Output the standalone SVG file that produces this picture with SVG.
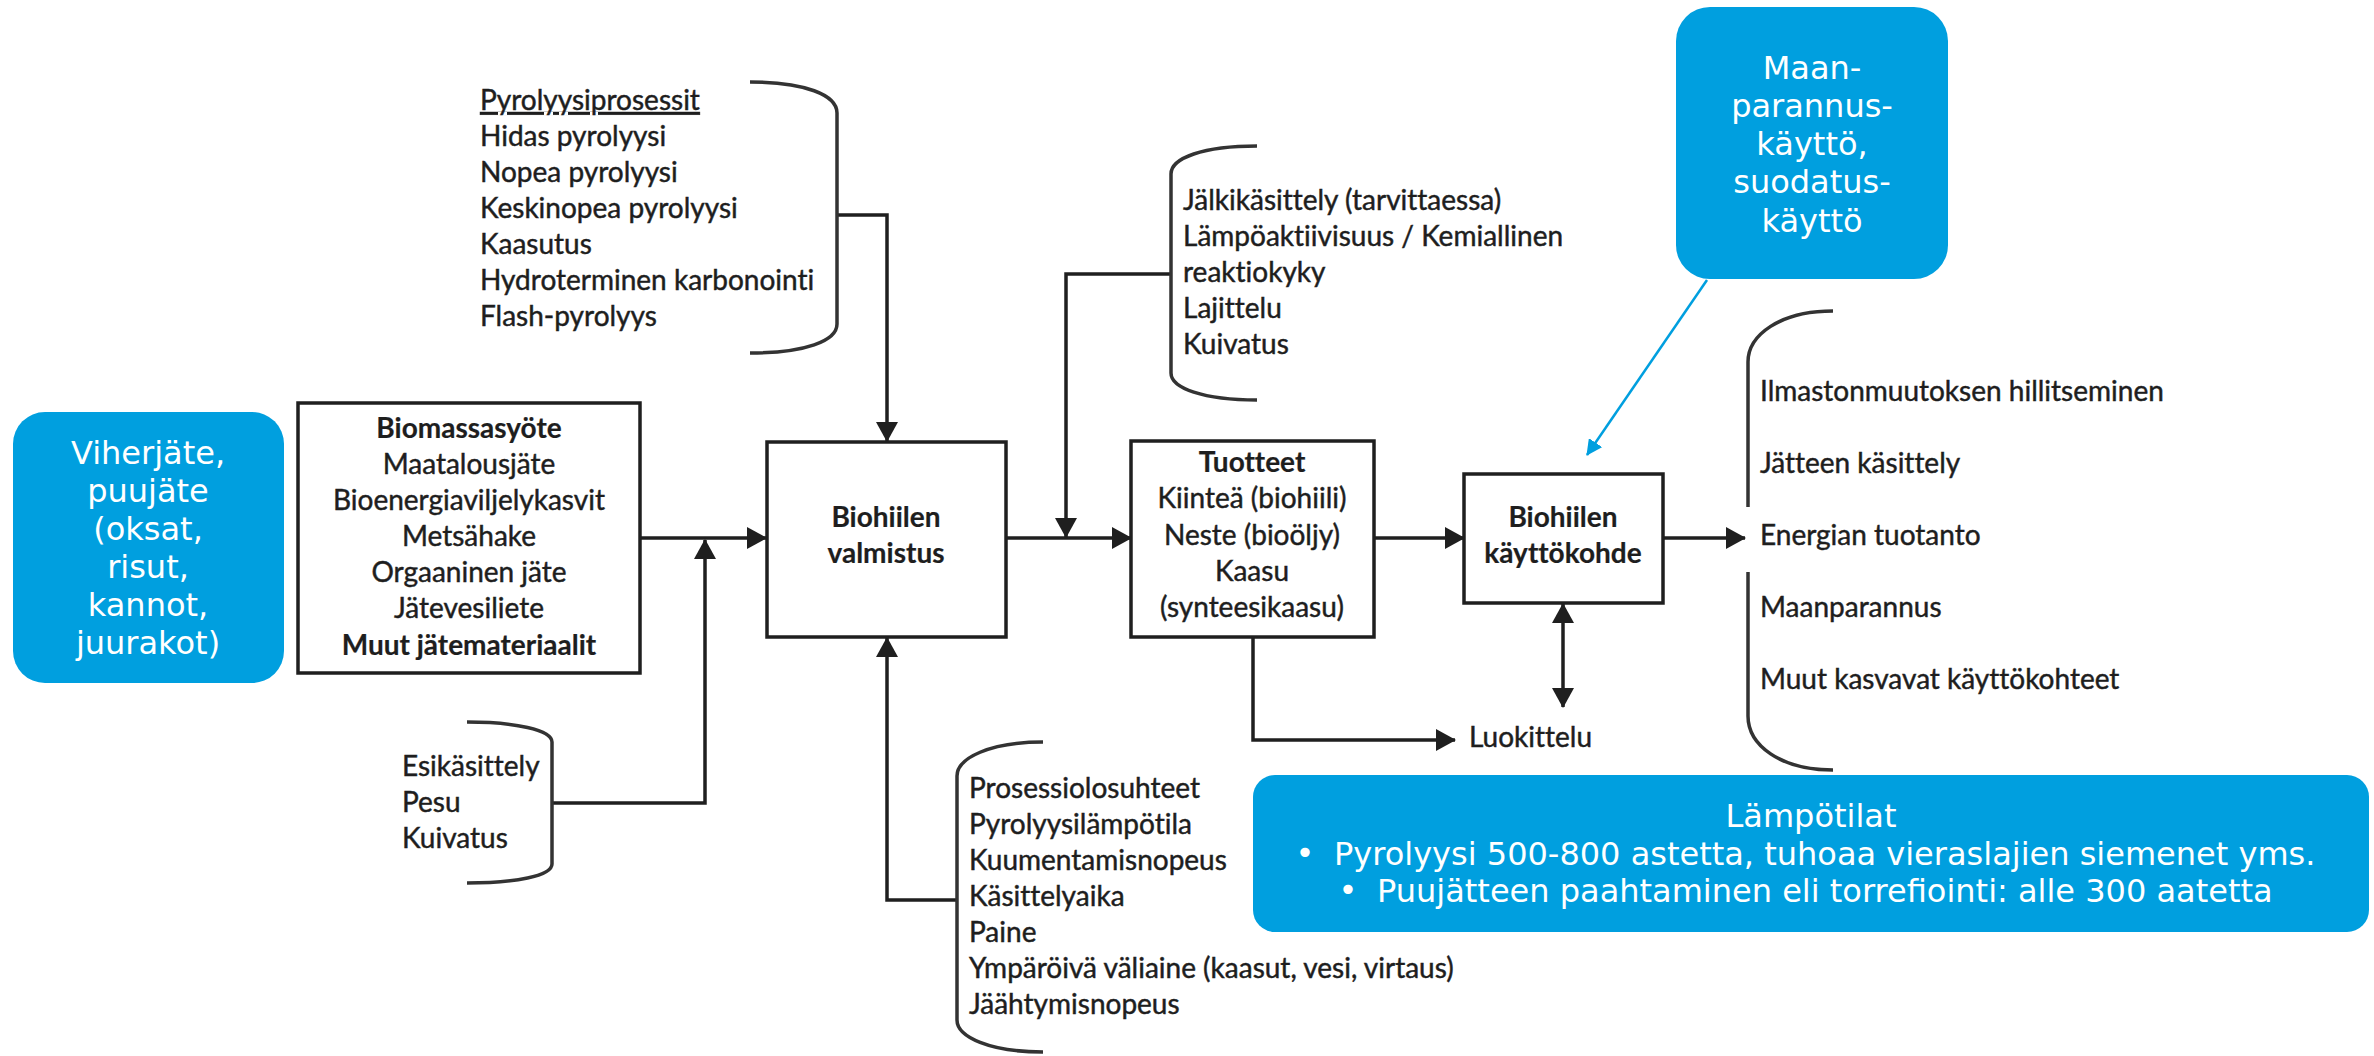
<svg xmlns="http://www.w3.org/2000/svg" width="2374" height="1056" viewBox="0 0 2374 1056">
  <style>
    .box { fill: #ffffff; stroke: #1f1f1f; stroke-width: 3.5; }
    .note { fill: #009fdf; }
    .t { font-family: Lato, "Liberation Sans", sans-serif; font-size: 28px; fill: #1e1e1e; stroke: #1e1e1e; stroke-width: 0.45; font-variant-ligatures: none; font-feature-settings: "liga" 0, "clig" 0; }
    .c { text-anchor: middle; }
    .b { font-weight: bold; stroke-width: 0.2; }
    .w { font-family: "DejaVu Sans", Verdana, sans-serif; font-size: 32px; fill: #ffffff; }
    .wire { fill: none; stroke: #1f1f1f; stroke-width: 3.5; }
    .brace { fill: none; stroke: #333333; stroke-width: 3.5; }
    .callout { fill: none; stroke: #009fdf; stroke-width: 2.5; }
  </style>
  <defs>
    <marker id="arrow" markerUnits="userSpaceOnUse" markerWidth="20" markerHeight="22" refX="19" refY="11" orient="auto">
      <path d="M0,0 L20,11 L0,22 z" fill="#1f1f1f"/>
    </marker>
    <marker id="arrowStart" markerUnits="userSpaceOnUse" markerWidth="20" markerHeight="22" refX="1" refY="11" orient="auto">
      <path d="M20,0 L0,11 L20,22 z" fill="#1f1f1f"/>
    </marker>
    <marker id="arrowBlue" markerUnits="userSpaceOnUse" markerWidth="16" markerHeight="16" refX="15" refY="8" orient="auto">
      <path d="M0,0 L16,8 L0,16 z" fill="#009fdf"/>
    </marker>
  </defs>

  <rect width="2374" height="1056" fill="#ffffff"/>

  <!-- connectors -->
  <g id="connectors">
    <path class="wire" d="M640,538 L766,538" marker-end="url(#arrow)"/>
    <path class="wire" d="M552,803 L705,803 L705,540" marker-end="url(#arrow)"/>
    <path class="wire" d="M837,215 L887,215 L887,441" marker-end="url(#arrow)"/>
    <path class="wire" d="M957,900 L887,900 L887,638" marker-end="url(#arrow)"/>
    <path class="wire" d="M1006,538 L1131,538" marker-end="url(#arrow)"/>
    <path class="wire" d="M1171,274 L1066,274 L1066,537" marker-end="url(#arrow)"/>
    <path class="wire" d="M1374,538 L1464,538" marker-end="url(#arrow)"/>
    <path class="wire" d="M1253,637 L1253,740 L1455,740" marker-end="url(#arrow)"/>
    <path class="wire" d="M1563,604 L1563,707" marker-start="url(#arrowStart)" marker-end="url(#arrow)"/>
    <path class="wire" d="M1663,538 L1745,538" marker-end="url(#arrow)"/>
    <path class="callout" d="M1707,280 L1587,455" marker-end="url(#arrowBlue)"/>
  </g>

  <!-- feedstock note -->
  <g id="note-feedstock">
    <rect class="note" x="13" y="412" width="271" height="271" rx="32"/>
    <text class="w c" x="148"><tspan x="148" y="464">Viherjäte,</tspan><tspan x="148" y="502">puujäte</tspan><tspan x="148" y="540">(oksat,</tspan><tspan x="148" y="578">risut,</tspan><tspan x="148" y="616">kannot,</tspan><tspan x="148" y="654">juurakot)</tspan></text>
  </g>

  <!-- feedstock box -->
  <g id="biomassa">
    <rect class="box" x="298" y="403" width="342" height="270"/>
    <text class="t c" x="469"><tspan class="b" x="469" y="438">Biomassasyöte</tspan><tspan x="469" y="474">Maatalousjäte</tspan><tspan x="469" y="510">Bioenergiaviljelykasvit</tspan><tspan x="469" y="546">Metsähake</tspan><tspan x="469" y="582">Orgaaninen jäte</tspan><tspan x="469" y="618">Jätevesiliete</tspan><tspan class="b" x="469" y="655">Muut jätemateriaalit</tspan></text>
  </g>

  <!-- pretreatment list -->
  <g id="esikasittely">
    <path class="brace" d="M467,722 C515,722 552,730 552,742 L552,864 C552,876 515,883 467,883"/>
    <text class="t"><tspan x="402" y="776">Esikäsittely</tspan><tspan x="402" y="812">Pesu</tspan><tspan x="402" y="848">Kuivatus</tspan></text>
  </g>

  <!-- pyrolysis process list -->
  <g id="pyrolyysiprosessit">
    <path class="brace" d="M750,82 C805,82 837,95 837,113 L837,324 C837,341 805,353 750,353"/>
    <text class="t"><tspan x="480" y="110" text-decoration="underline">Pyrolyysiprosessit</tspan><tspan x="480" y="146">Hidas pyrolyysi</tspan><tspan x="480" y="182">Nopea pyrolyysi</tspan><tspan x="480" y="218">Keskinopea pyrolyysi</tspan><tspan x="480" y="254">Kaasutus</tspan><tspan x="480" y="290">Hydroterminen karbonointi</tspan><tspan x="480" y="326">Flash-pyrolyys</tspan></text>
  </g>

  <!-- production box -->
  <g id="valmistus">
    <rect class="box" x="767" y="442" width="239" height="195"/>
    <text class="t c b" x="886"><tspan x="886" y="527">Biohiilen</tspan><tspan x="886" y="563">valmistus</tspan></text>
  </g>

  <!-- process conditions list -->
  <g id="prosessiolosuhteet">
    <path class="brace" d="M1043,742 C990,742 957,758 957,776 L957,1020 C957,1037 990,1052 1043,1052"/>
    <text class="t"><tspan x="969" y="798">Prosessiolosuhteet</tspan><tspan x="969" y="834">Pyrolyysilämpötila</tspan><tspan x="969" y="870">Kuumentamisnopeus</tspan><tspan x="969" y="906">Käsittelyaika</tspan><tspan x="969" y="942">Paine</tspan><tspan x="969" y="978">Ympäröivä väliaine (kaasut, vesi, virtaus)</tspan><tspan x="969" y="1014">Jäähtymisnopeus</tspan></text>
  </g>

  <!-- post-treatment list -->
  <g id="jalkikasittely">
    <path class="brace" d="M1257,146 C1203,146 1171,158 1171,174 L1171,373 C1171,388 1203,400 1257,400"/>
    <text class="t"><tspan x="1183" y="210">Jälkikäsittely (tarvittaessa)</tspan><tspan x="1183" y="246">Lämpöaktiivisuus / Kemiallinen</tspan><tspan x="1183" y="282">reaktiokyky</tspan><tspan x="1183" y="318">Lajittelu</tspan><tspan x="1183" y="354">Kuivatus</tspan></text>
  </g>

  <!-- products box -->
  <g id="tuotteet">
    <rect class="box" x="1131" y="441" width="243" height="196"/>
    <text class="t c" x="1252"><tspan class="b" x="1252" y="472">Tuotteet</tspan><tspan x="1252" y="508">Kiinteä (biohiili)</tspan><tspan x="1252" y="545">Neste (bioöljy)</tspan><tspan x="1252" y="581">Kaasu</tspan><tspan x="1252" y="617">(synteesikaasu)</tspan></text>
  </g>

  <!-- classification label -->
  <g id="luokittelu">
    <text class="t" x="1469" y="747">Luokittelu</text>
  </g>

  <!-- end use box -->
  <g id="kayttokohde">
    <rect class="box" x="1464" y="474" width="199" height="129"/>
    <text class="t c b" x="1563"><tspan x="1563" y="527">Biohiilen</tspan><tspan x="1563" y="563">käyttökohde</tspan></text>
  </g>

  <!-- end use list -->
  <g id="kayttokohteet">
    <path class="brace" d="M1833,311 C1780,311 1748,335 1748,362 L1748,507 M1748,572 L1748,716 C1748,745 1780,770 1833,770"/>
    <text class="t"><tspan x="1760" y="401">Ilmastonmuutoksen hillitseminen</tspan><tspan x="1760" y="473">Jätteen käsittely</tspan><tspan x="1760" y="545">Energian tuotanto</tspan><tspan x="1760" y="617">Maanparannus</tspan><tspan x="1760" y="689">Muut kasvavat käyttökohteet</tspan></text>
  </g>

  <!-- soil use note -->
  <g id="note-maanparannus">
    <rect class="note" x="1676" y="7" width="272" height="272" rx="34"/>
    <text class="w c" x="1812"><tspan x="1812" y="79">Maan-</tspan><tspan x="1812" y="117">parannus-</tspan><tspan x="1812" y="155">käyttö,</tspan><tspan x="1812" y="193">suodatus-</tspan><tspan x="1812" y="232">käyttö</tspan></text>
  </g>

  <!-- temperature note -->
  <g id="note-lampotilat">
    <rect class="note" x="1253" y="775" width="1116" height="157" rx="22"/>
    <text class="w c" x="1811" y="827">Lämpötilat</text>
    <text class="w c" x="1305" y="864" font-size="22">•</text>
    <text class="w" x="1334" y="865" font-size="32.3">Pyrolyysi 500-800 astetta, tuhoaa vieraslajien siemenet yms.</text>
    <text class="w c" x="1348" y="901" font-size="22">•</text>
    <text class="w" x="1377" y="902" font-size="32.3">Puujätteen paahtaminen eli torrefiointi: alle 300 aatetta</text>
  </g>
</svg>
